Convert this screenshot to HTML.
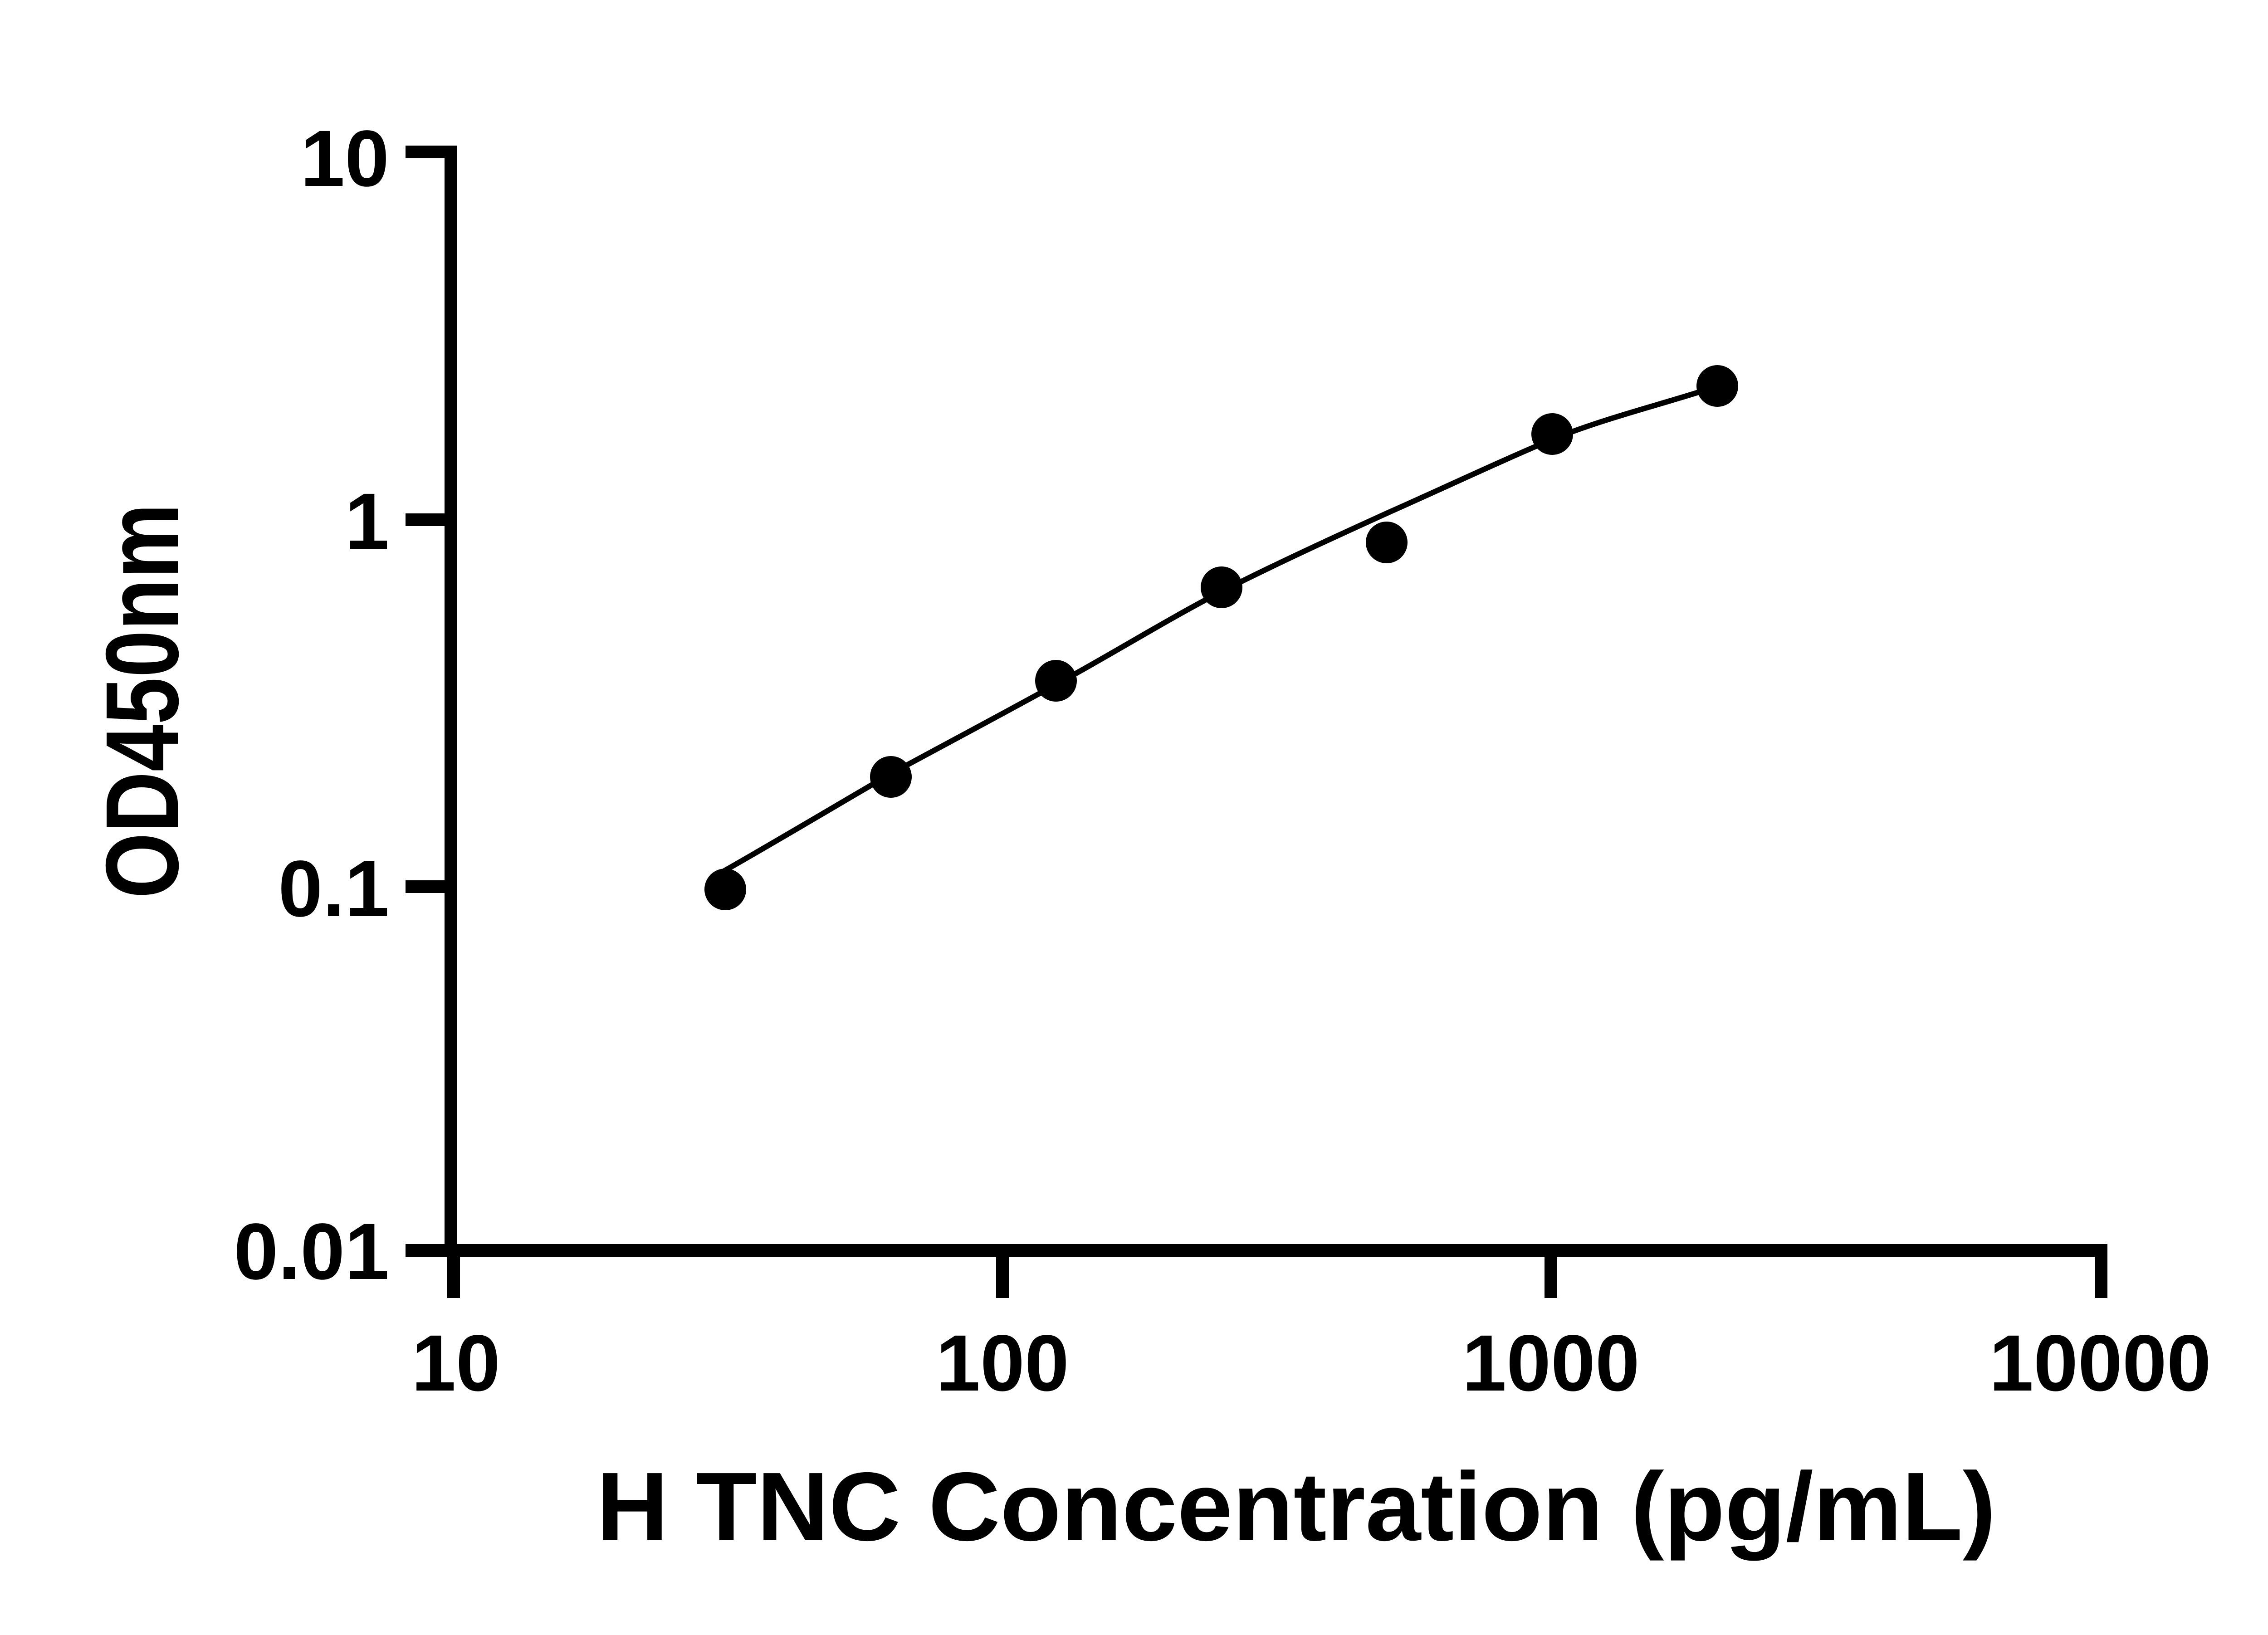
<!DOCTYPE html>
<html><head><style>html,body{margin:0;padding:0;background:#fff}</style></head>
<body>
<svg width="5142" height="3600" viewBox="0 0 5142 3600" xmlns="http://www.w3.org/2000/svg">
<rect width="5142" height="3600" fill="#fff"/>
<g stroke="#000" stroke-width="28" fill="none" stroke-linecap="butt">
<polyline points="894,335 994,335 994,2757 4632,2757 4632,2862"/>
<line x1="894" y1="1146" x2="994" y2="1146"/>
<line x1="894" y1="1955" x2="994" y2="1955"/>
<line x1="894" y1="2757" x2="994" y2="2757"/>
<line x1="1000" y1="2757" x2="1000" y2="2862"/>
<line x1="2210" y1="2757" x2="2210" y2="2862"/>
<line x1="3419" y1="2757" x2="3419" y2="2862"/>
</g>
<path d="M1597,1920 C1720,1850 1840,1778 1964,1706 C2090,1638 2210,1574 2332,1507 C2455,1440 2575,1365 2697,1302 C2820,1240 2940,1185 3061,1130 C3185,1075 3305,1018 3426,967 C3540,922 3650,895 3760,860" stroke="#000" stroke-width="12" fill="none"/>
<g fill="#000">
<circle cx="1599" cy="1961" r="46"/>
<circle cx="1964" cy="1713" r="46"/>
<circle cx="2328" cy="1501" r="46"/>
<circle cx="2693" cy="1295" r="46"/>
<circle cx="3057" cy="1196" r="46"/>
<circle cx="3422" cy="957" r="46"/>
<circle cx="3786" cy="851" r="46"/>
</g>
<g font-family="Liberation Sans, Arial, sans-serif" font-weight="bold" font-size="176" fill="#000">
<text x="858" y="410" text-anchor="end">10</text>
<text x="858" y="1210" text-anchor="end">1</text>
<text x="858" y="2020" text-anchor="end">0.1</text>
<text x="858" y="2820" text-anchor="end">0.01</text>
<text x="1005" y="3066" text-anchor="middle">10</text>
<text x="2210" y="3066" text-anchor="middle">100</text>
<text x="3419" y="3066" text-anchor="middle">1000</text>
<text x="4630" y="3066" text-anchor="middle">10000</text>
</g>
<text x="1315" y="3396" font-family="Liberation Sans, Arial, sans-serif" font-weight="bold" font-size="215" textLength="3085" lengthAdjust="spacingAndGlyphs">H TNC Concentration (pg/mL)</text>
<text transform="translate(392,1981) rotate(-90)" font-family="Liberation Sans, Arial, sans-serif" font-weight="bold" font-size="228" textLength="871" lengthAdjust="spacingAndGlyphs">OD450nm</text>
</svg>
</body></html>
